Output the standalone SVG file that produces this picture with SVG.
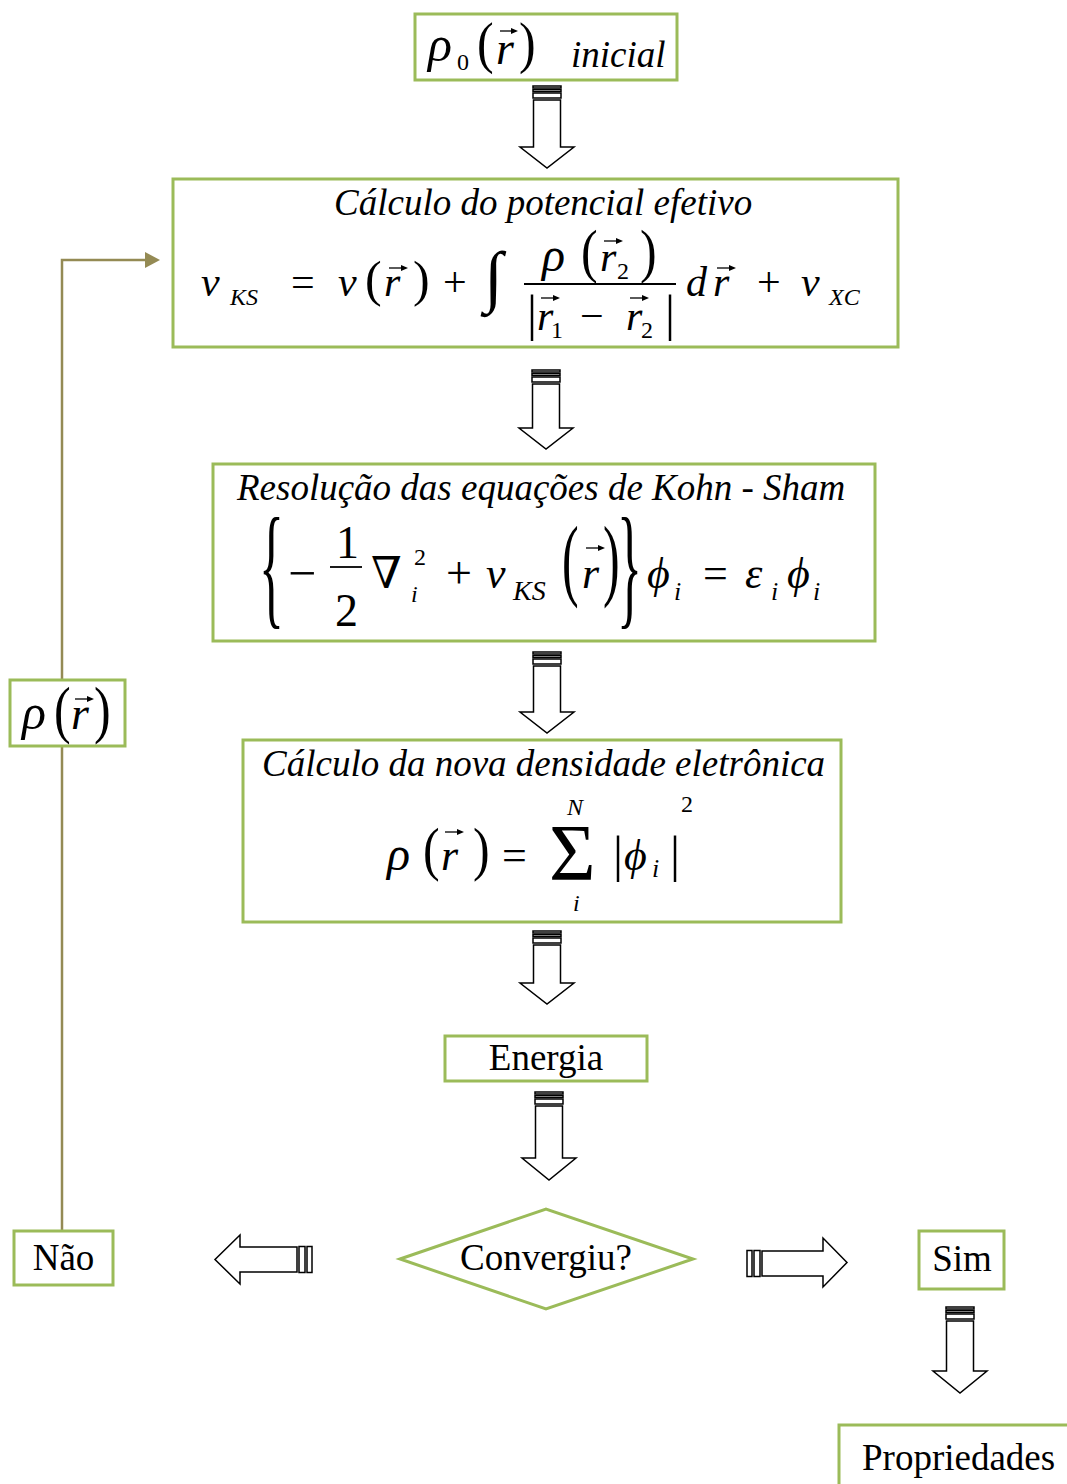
<svg xmlns="http://www.w3.org/2000/svg" width="1067" height="1484" viewBox="0 0 1067 1484">
<style>
.box{fill:#fff;stroke:#9BBB59;stroke-width:3}
.t{font-family:"Liberation Serif","DejaVu Serif",serif;font-size:37px;fill:#000}
.i{font-style:italic}
.f42{font-size:42px}.f44{font-size:44px}.f46{font-size:46px}.f48{font-size:48px}.f50{font-size:50px}.f24{font-size:24px}.f26{font-size:26px}
.ba{fill:#fff;stroke:#000;stroke-width:1.5}
.conn{fill:none;stroke:#948A54;stroke-width:2.5}
.vec{fill:none;stroke:#000;stroke-width:1.3}
.bar{stroke:#000;stroke-width:1.8}
</style>
<defs>
<marker id="vh" markerUnits="userSpaceOnUse" markerWidth="7" markerHeight="6" refX="1" refY="3" orient="auto"><path d="M0,0 L7,3 L0,6 z" fill="#000"/></marker>
<marker id="oa" markerUnits="userSpaceOnUse" markerWidth="16" markerHeight="16" refX="1" refY="8" orient="auto"><path d="M0,0 L15,8 L0,16 z" fill="#948A54"/></marker>
</defs>

<g id="connectors">
<path class="conn" d="M62 1231 V260 H146" marker-end="url(#oa)"/>
<g id="arrow1"><rect class="ba" x="533" y="86" width="28" height="2"/><rect class="ba" x="533" y="89.5" width="28" height="2"/><rect class="ba" x="533" y="93" width="28" height="5"/><path class="ba" d="M533.5 100 H560.5 V147 H574 L547 168 L520 147 H533.5 Z"/></g>
<g id="arrow2"><rect class="ba" x="532" y="370" width="28" height="2"/><rect class="ba" x="532" y="373.5" width="28" height="2"/><rect class="ba" x="532" y="377" width="28" height="5"/><path class="ba" d="M532.5 384 H559.5 V428 H573 L546 449 L519 428 H532.5 Z"/></g>
<g id="arrow3"><rect class="ba" x="533" y="652" width="28" height="2"/><rect class="ba" x="533" y="655.5" width="28" height="2"/><rect class="ba" x="533" y="659" width="28" height="5"/><path class="ba" d="M533.5 666 H560.5 V712 H574 L547 733 L520 712 H533.5 Z"/></g>
<g id="arrow4"><rect class="ba" x="533" y="931" width="28" height="2"/><rect class="ba" x="533" y="934.5" width="28" height="2"/><rect class="ba" x="533" y="938" width="28" height="5"/><path class="ba" d="M533.5 945 H560.5 V983 H574 L547 1004 L520 983 H533.5 Z"/></g>
<g id="arrow5"><rect class="ba" x="535" y="1092" width="28" height="2"/><rect class="ba" x="535" y="1095.5" width="28" height="2"/><rect class="ba" x="535" y="1099" width="28" height="5"/><path class="ba" d="M535.5 1106 H562.5 V1158 H576 L549 1180 L522 1158 H535.5 Z"/></g>
<g id="arrow6"><rect class="ba" x="946" y="1307" width="28" height="2"/><rect class="ba" x="946" y="1310.5" width="28" height="2"/><rect class="ba" x="946" y="1314" width="28" height="5"/><path class="ba" d="M946.5 1321 H973.5 V1371 H987 L960 1393 L933 1371 H946.5 Z"/></g>
<g id="arrowLeft"><rect class="ba" x="307" y="1246.5" width="5" height="26"/><rect class="ba" x="299" y="1246.5" width="6" height="26"/><path class="ba" d="M297 1247 H240 V1235 L215 1259.5 L240 1284 V1272 H297 Z"/></g>
<g id="arrowRight"><rect class="ba" x="747" y="1250.5" width="5" height="26"/><rect class="ba" x="754" y="1250.5" width="6" height="26"/><path class="ba" d="M762 1251 H823 V1238 L847 1262.5 L823 1287 V1276 H762 Z"/></g>
</g>

<g id="n-inicial">
<rect class="box" x="415" y="14" width="262" height="66"/>
<text class="t i f50" x="428" y="61">ρ</text>
<text class="t f24" x="457" y="70">0</text>
<text class="t f50" transform="translate(477,62) scale(1,1.15)">(</text>
<text class="t i f46" x="496" y="64">r</text>
<path class="vec" d="M500 31 H512" marker-end="url(#vh)"/>
<text class="t f50" transform="translate(519,62) scale(1,1.15)">)</text>
<text class="t i" x="571" y="67">inicial</text>
</g>

<g id="n-potencial">
<rect class="box" x="173" y="179" width="725" height="168"/>
<text class="t i" x="334" y="215">Cálculo do potencial efetivo</text>
<text class="t i f42" x="201" y="296">v</text>
<text class="t i f24" x="230" y="305">KS</text>
<text class="t f42" x="291" y="296">=</text>
<text class="t i f42" x="338" y="296">v</text>
<text class="t f50" x="365" y="296">(</text>
<text class="t i f42" x="384" y="296">r</text>
<path class="vec" d="M389 268 H402" marker-end="url(#vh)"/>
<text class="t f50" x="413" y="296">)</text>
<text class="t f42" x="443" y="296">+</text>
<text class="t" style="font-size:68px" x="484" y="299">∫</text>
<text class="t i f48" x="542" y="271">ρ</text>
<text class="t f50" transform="translate(581,271) scale(1,1.2)">(</text>
<text class="t i f42" x="600" y="271">r</text>
<path class="vec" d="M604 241 H617" marker-end="url(#vh)"/>
<text class="t f24" x="617" y="279">2</text>
<text class="t f50" transform="translate(640,271) scale(1,1.2)">)</text>
<line class="bar" x1="524" y1="284" x2="676" y2="284"/>
<text class="t f50" x="527" y="330">|</text>
<text class="t i f42" x="537" y="330">r</text>
<path class="vec" d="M541 298 H554" marker-end="url(#vh)"/>
<text class="t f24" x="551" y="338">1</text>
<text class="t f42" x="580" y="330">−</text>
<text class="t i f42" x="626" y="330">r</text>
<path class="vec" d="M630 298 H643" marker-end="url(#vh)"/>
<text class="t f24" x="641" y="338">2</text>
<text class="t f50" x="665" y="330">|</text>
<text class="t i f42" x="686" y="296">d</text>
<text class="t i f42" x="713" y="296">r</text>
<path class="vec" d="M717 268 H730" marker-end="url(#vh)"/>
<text class="t f42" x="757" y="296">+</text>
<text class="t i f42" x="801" y="296">v</text>
<text class="t i f24" x="829" y="305">XC</text>
</g>

<g id="n-kohnsham">
<rect class="box" x="213" y="464" width="662" height="177"/>
<text class="t i" x="237" y="500">Resolução das equações de Kohn - Sham</text>
<text class="t" style="font-size:52px" transform="translate(259,611) scale(1,2.6)">{</text>
<text class="t" style="font-size:50px" x="288" y="590">−</text>
<text class="t f46" x="336" y="558">1</text>
<line class="bar" x1="330" y1="567" x2="362" y2="567"/>
<text class="t f46" x="335" y="626">2</text>
<text class="t f44" x="371" y="588">∇</text>
<text class="t f24" x="414" y="565">2</text>
<text class="t i f24" x="411" y="602">i</text>
<text class="t f46" x="446" y="588">+</text>
<text class="t i f44" x="486" y="588">v</text>
<text class="t i" style="font-size:28px" x="513" y="600">KS</text>
<text class="t f50" transform="translate(562,589) scale(1,1.8)">(</text>
<text class="t i f44" x="582" y="588">r</text>
<path class="vec" d="M586 548 H599" marker-end="url(#vh)"/>
<text class="t f50" transform="translate(603,589) scale(1,1.8)">)</text>
<text class="t" style="font-size:52px" transform="translate(617,611) scale(1,2.6)">}</text>
<text class="t i f44" x="647" y="588">ϕ</text>
<text class="t i f26" x="674" y="600">i</text>
<text class="t f44" x="703" y="588">=</text>
<text class="t i f44" x="745" y="588">ε</text>
<text class="t i f26" x="771" y="600">i</text>
<text class="t i f44" x="787" y="588">ϕ</text>
<text class="t i f26" x="813" y="600">i</text>
</g>

<g id="n-densidade">
<rect class="box" x="243" y="740" width="598" height="182"/>
<text class="t i" x="262" y="776">Cálculo da nova densidade eletrônica</text>
<text class="t i f48" x="387" y="870">ρ</text>
<text class="t f50" transform="translate(423,869) scale(1,1.2)">(</text>
<text class="t i f44" x="441" y="870">r</text>
<path class="vec" d="M445 832 H458" marker-end="url(#vh)"/>
<text class="t f50" transform="translate(473,869) scale(1,1.2)">)</text>
<text class="t f44" x="502" y="870">=</text>
<text class="t" style="font-size:80px" x="549" y="880">Σ</text>
<text class="t i f24" x="567" y="815">N</text>
<text class="t i f24" x="573" y="911">i</text>
<text class="t f50" x="613" y="871">|</text>
<text class="t i f44" x="624" y="870">ϕ</text>
<text class="t i f26" x="652" y="877">i</text>
<text class="t f50" x="670" y="871">|</text>
<text class="t f24" x="681" y="812">2</text>
</g>

<g id="n-energia">
<rect class="box" x="445" y="1036" width="202" height="45"/>
<text class="t" x="546" y="1070" text-anchor="middle">Energia</text>
</g>

<g id="n-convergiu">
<polygon class="box" points="400,1259 546,1209 693,1259 546,1309"/>
<text class="t" x="546" y="1270" text-anchor="middle">Convergiu?</text>
</g>

<g id="n-nao">
<rect class="box" x="14" y="1231" width="99" height="54"/>
<text class="t" x="63.5" y="1270" text-anchor="middle">Não</text>
</g>

<g id="n-sim">
<rect class="box" x="919" y="1231" width="85" height="58"/>
<text class="t" x="962" y="1271" text-anchor="middle">Sim</text>
</g>

<g id="n-propriedades">
<rect class="box" x="839" y="1425" width="240" height="70"/>
<text class="t" x="862" y="1470">Propriedades</text>
</g>

<g id="n-rho">
<rect class="box" x="10" y="680" width="115" height="66"/>
<text class="t i f50" x="22" y="729">ρ</text>
<text class="t f50" transform="translate(54,731) scale(1,1.25)">(</text>
<text class="t i f46" x="71" y="729">r</text>
<path class="vec" d="M75 699 H88" marker-end="url(#vh)"/>
<text class="t f50" transform="translate(94,731) scale(1,1.25)">)</text>
</g>
</svg>
